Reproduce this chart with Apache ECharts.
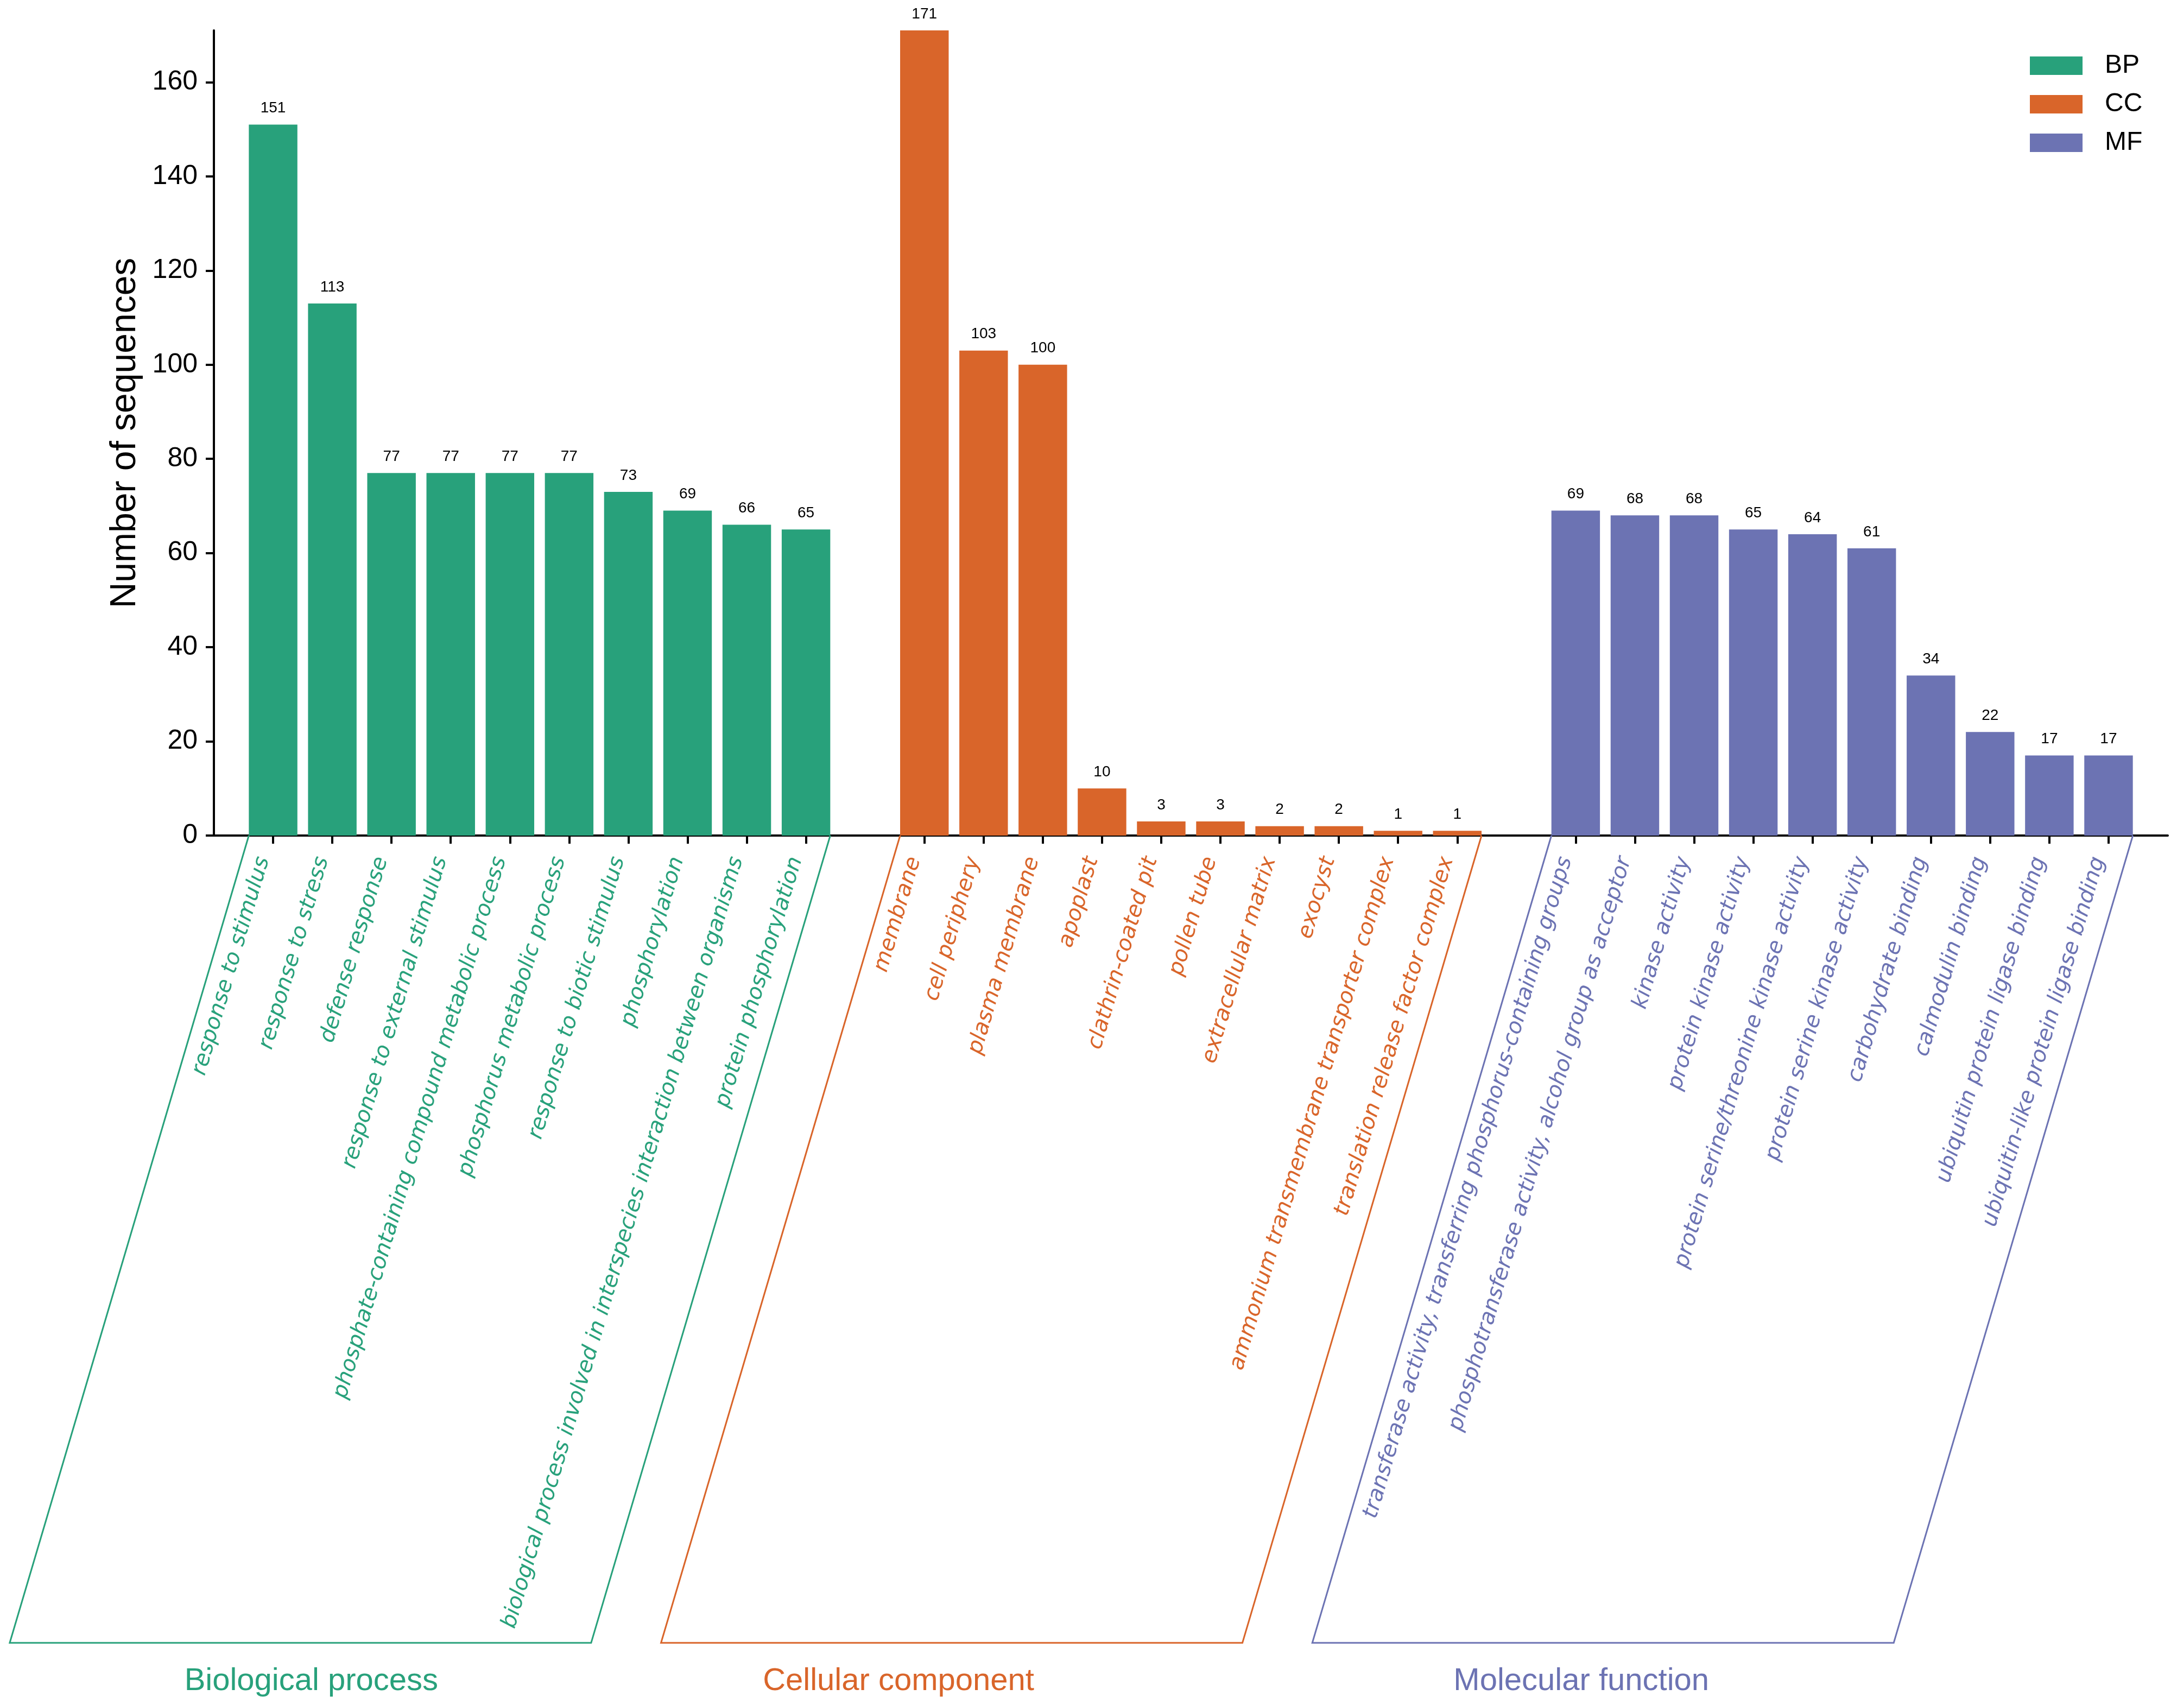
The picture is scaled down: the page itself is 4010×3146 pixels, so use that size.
<!DOCTYPE html>
<html><head><meta charset="utf-8">
<script src="https://cdn.jsdelivr.net/npm/echarts@6/dist/echarts.min.js"></script>
<style>html,body{margin:0;padding:0;background:#fff}#c{width:4010px;height:3146px}</style>
</head><body><div id="c"></div>
<script>
const bpTerms = ['response to stimulus','response to stress','defense response','response to external stimulus','phosphate-containing compound metabolic process','phosphorus metabolic process','response to biotic stimulus','phosphorylation','biological process involved in interspecies interaction between organisms','protein phosphorylation'];
const bpValues = [151,113,77,77,77,77,73,69,66,65];
const ccTerms = ['membrane','cell periphery','plasma membrane','apoplast','clathrin-coated pit','pollen tube','extracellular matrix','exocyst','ammonium transmembrane transporter complex','translation release factor complex'];
const ccValues = [171,103,100,10,3,3,2,2,1,1];
const mfTerms = ['transferase activity, transferring phosphorus-containing groups','phosphotransferase activity, alcohol group as acceptor','kinase activity','protein kinase activity','protein serine/threonine kinase activity','protein serine kinase activity','carbohydrate binding','calmodulin binding','ubiquitin protein ligase binding','ubiquitin-like protein ligase binding'];
const mfValues = [69,68,68,65,64,61,34,22,17,17];
const seriesNames = ['BP','CC','MF'];
const groupNames = ['Biological process','Cellular component','Molecular function'];
const colors = ['#28A17B','#D9652A','#6C73B3'];
const yTicks = [0,20,40,60,80,100,120,140,160];

const groups = [[bpTerms,bpValues],[ccTerms,ccValues],[mfTerms,mfValues]];
const categories = [];
const catGroup = [];
const seriesData = [[],[],[]];
const groupRange = [];
let blank = ' ';
function pushBlank(){ categories.push(blank); blank += ' '; catGroup.push(-1); seriesData.forEach(d=>d.push('-')); }
pushBlank();
groups.forEach((g,gi)=>{
  const start = categories.length;
  g[0].forEach((t,i)=>{
    categories.push(t); catGroup.push(gi);
    seriesData.forEach((d,si)=>d.push(si===gi ? g[1][i] : '-'));
  });
  groupRange.push([start, categories.length-1]);
  pushBlank();
});

const chart = echarts.init(document.getElementById('c'), null, {renderer:'canvas'});
const ROT = 73.5;
chart.setOption({
  animation:false,
  backgroundColor:'#ffffff',
  grid:{left:394,right:17,top:56,bottom:1607,containLabel:false},
  legend:{
    data:seriesNames, orient:'vertical', left:3734, top:92,
    itemWidth:97, itemHeight:34, itemGap:23, icon:'rect',
    textStyle:{fontFamily:'Liberation Sans',fontSize:48,color:'#000',padding:[0,0,0,36]}
  },
  xAxis:{
    type:'category', data:categories, boundaryGap:false,
    axisLine:{lineStyle:{color:'#000',width:4}},
    axisTick:{show:true,length:15,lineStyle:{color:'#000',width:4},interval:(i)=>catGroup[i]>=0},
    axisLabel:{interval:0,rotate:ROT,margin:30,padding:[0,15,0,0],verticalAlign:'bottom',lineHeight:28,
      fontFamily:'DejaVu Sans',fontStyle:'italic',fontSize:40,
      color:(v,i)=>catGroup[i]>=0?colors[catGroup[i]]:'rgba(0,0,0,0)'},
    splitLine:{show:false}
  },
  yAxis:{
    type:'value', min:0, max:171,
    name:'Number of sequences', nameLocation:'middle', nameGap:130,
    nameTextStyle:{fontFamily:'Liberation Sans',fontSize:66,color:'#000'},
    axisLine:{show:true,lineStyle:{color:'#000',width:4}},
    axisTick:{show:true,length:15,lineStyle:{color:'#000',width:4},customValues:yTicks},
    axisLabel:{customValues:yTicks,fontFamily:'Liberation Sans',fontSize:50,color:'#000',margin:30},
    splitLine:{show:false}
  },
  series:seriesNames.map((n,si)=>({
    name:n, type:'bar', data:seriesData[si], barWidth:'82%', barGap:'-100%',
    itemStyle:{color:colors[si]},
    label:{show:true,position:'top',distance:16,fontFamily:'Liberation Sans',fontSize:28,color:'#000'}
  }))
});

// group brackets and titles
const p0 = chart.convertToPixel({gridIndex:0},[0,0]);
const p1 = chart.convertToPixel({gridIndex:0},[1,0]);
const slot = p1[0]-p0[0];
const bw = slot*0.82;
const y0 = p0[1];
const yB = 3026;
const dx = (yB - y0)/Math.tan(ROT*Math.PI/180);
const titleOffsets = [20,-98,-40];
const graphics = [];
groupRange.forEach((r,gi)=>{
  const xL = chart.convertToPixel({gridIndex:0},[r[0],0])[0] - bw/2;
  const xR = chart.convertToPixel({gridIndex:0},[r[1],0])[0] + bw/2;
  graphics.push({type:'polyline',silent:true,z:1,
    shape:{points:[[xL,y0],[xL-dx,yB],[xR-dx,yB],[xR,y0]]},
    style:{stroke:colors[gi],lineWidth:3,fill:null}});
  graphics.push({type:'text',silent:true,
    x:(xL-dx+xR-dx)/2+titleOffsets[gi], y:3097,
    style:{text:groupNames[gi],fill:colors[gi],font:'58px "Liberation Sans"',align:'center',verticalAlign:'middle'}});
});
chart.setOption({graphic:graphics});
</script></body></html>
